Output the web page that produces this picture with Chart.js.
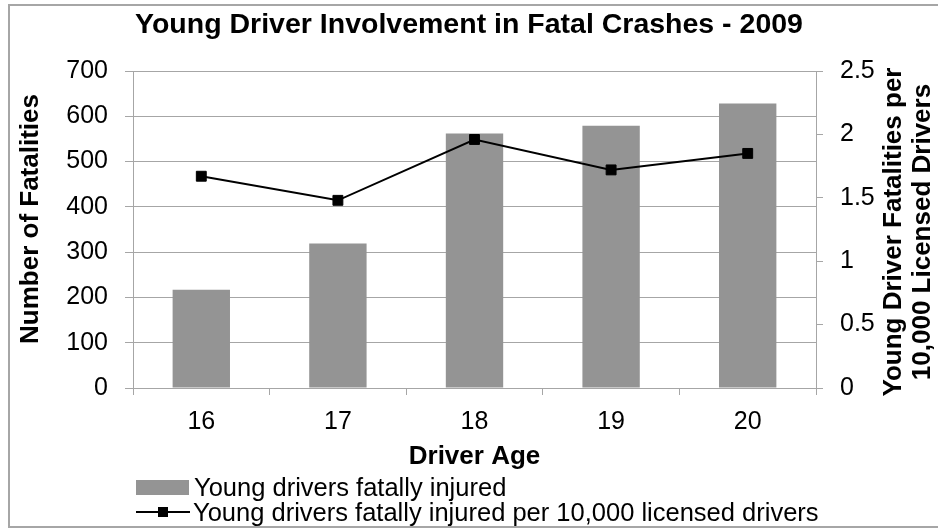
<!DOCTYPE html>
<html>
<head>
<meta charset="utf-8">
<script src="https://cdn.jsdelivr.net/npm/chart.js@4"></script>
<style>
  html, body { margin: 0; padding: 0; background: #fff; }
  body { width: 938px; height: 529px; overflow: hidden; position: relative; font-family: "Liberation Sans", Arial, sans-serif; }
  #frame { position: absolute; left: 8px; top: 4px; width: 960px; height: 524px; border: 2px solid #a6a6a6; box-sizing: border-box; }
  #grafico { position: absolute; left: 0; top: 0; }
  .legendRow { position: absolute; left: 136px; height: 26px; display: flex; align-items: center; font-size: 25.5px; color: #000; white-space: nowrap; }
  .swBar { width: 53px; height: 15px; background: #949494; margin-right: 5px; }
  .swLine { width: 54px; height: 15px; margin-right: 3px; position: relative; }
  .swLine:before { content: ""; position: absolute; left: 0; right: 0; top: 6px; height: 2px; background: #000; }
  .swLine:after { content: ""; position: absolute; left: 22px; top: 2px; width: 10px; height: 10px; background: #000; }
</style>
</head>
<body>
<div id="frame"></div>
<canvas id="grafico" width="938" height="529"></canvas>
<div class="legendRow" style="top:474px"><div class="swBar"></div>Young drivers fatally injured</div>
<div class="legendRow" style="top:499px"><div class="swLine"></div>Young drivers fatally injured per 10,000 licensed drivers</div>
<script>
const idades = ["16", "17", "18", "19", "20"];
const fatalidades = [217, 319, 562, 579, 628];
const taxaPor10mil = [1.67, 1.48, 1.96, 1.72, 1.85];

const tituloEsq = "Number of Fatalities";
const tituloDir = ["Young Driver Fatalities per", "10,000 Licensed Drivers"];

const cinza = "#a6a6a6";
const fonte = '"Liberation Sans", Arial, sans-serif';

// titulos dos eixos y desenhados a mao (o da direita le de baixo pra cima)
const titulosEixos = {
  id: "titulosEixos",
  afterDraw(chart) {
    const ctx = chart.ctx;
    ctx.save();
    ctx.font = "bold 26px " + fonte;
    ctx.fillStyle = "#000";
    ctx.textAlign = "center";
    ctx.textBaseline = "middle";

    ctx.save();
    ctx.translate(31, 219);
    ctx.rotate(-Math.PI / 2);
    ctx.fillText(tituloEsq, 0, 0);
    ctx.restore();

    ctx.save();
    ctx.translate(894, 232);
    ctx.rotate(-Math.PI / 2);
    ctx.fillText(tituloDir[0], 0, 0);
    ctx.fillText(tituloDir[1], 0, 29);
    ctx.restore();

    ctx.restore();
  },
};

const ctx = document.getElementById("grafico");

const chart = new Chart(ctx, {
  type: "bar",
  data: {
    labels: idades,
    datasets: [
      {
        type: "line",
        label: "Young drivers fatally injured per 10,000 licensed drivers",
        data: taxaPor10mil,
        yAxisID: "y1",
        borderColor: "#000",
        borderWidth: 2,
        pointStyle: "rect",
        pointRadius: 7,
        pointBackgroundColor: "#000",
        pointBorderColor: "#000",
        pointBorderWidth: 1,
        order: 0,
      },
      {
        label: "Young drivers fatally injured",
        data: fatalidades,
        yAxisID: "y",
        backgroundColor: "#949494",
        borderWidth: 0,
        categoryPercentage: 1,
        barPercentage: 0.42,
        order: 1,
      },
    ],
  },
  options: {
    responsive: false,
    animation: false,
    layout: { padding: 0 },
    plugins: {
      legend: { display: false },
      tooltip: { enabled: false },
      title: {
        display: true,
        text: "Young Driver Involvement in Fatal Crashes - 2009",
        color: "#000",
        font: { family: fonte, size: 28.5, weight: "bold", lineHeight: 1.2 },
        padding: { top: 8, bottom: 28.8 },
      },
    },
    scales: {
      x: {
        afterFit: (s) => { s.height = 141; },
        grid: { offset: true, drawOnChartArea: false, drawTicks: true, tickLength: 7, color: cinza },
        border: { color: cinza },
        ticks: { color: "#000", font: { family: fonte, size: 25 }, padding: 12 },
        title: {
          display: true,
          text: "Driver Age",
          color: "#000",
          font: { family: fonte, size: 26, weight: "bold", lineHeight: 1.2 },
          padding: { top: 0, bottom: 57 },
        },
      },
      y: {
        position: "left",
        min: 0,
        max: 700,
        afterFit: (s) => { s.width = 133; },
        grid: { color: cinza, tickLength: 8 },
        border: { color: cinza },
        ticks: { stepSize: 100, color: "#000", font: { family: fonte, size: 25 }, padding: 17 },
      },
      y1: {
        position: "right",
        min: 0,
        max: 2.5,
        afterFit: (s) => { s.width = 122; },
        grid: { drawOnChartArea: false, color: cinza, tickLength: 7 },
        border: { color: cinza },
        ticks: {
          stepSize: 0.5,
          color: "#000",
          font: { family: fonte, size: 25 },
          padding: 17,
          callback: (v) => String(Number(v.toFixed(1))),
        },
      },
    },
  },
  plugins: [titulosEixos],
});
</script>
</body>
</html>
